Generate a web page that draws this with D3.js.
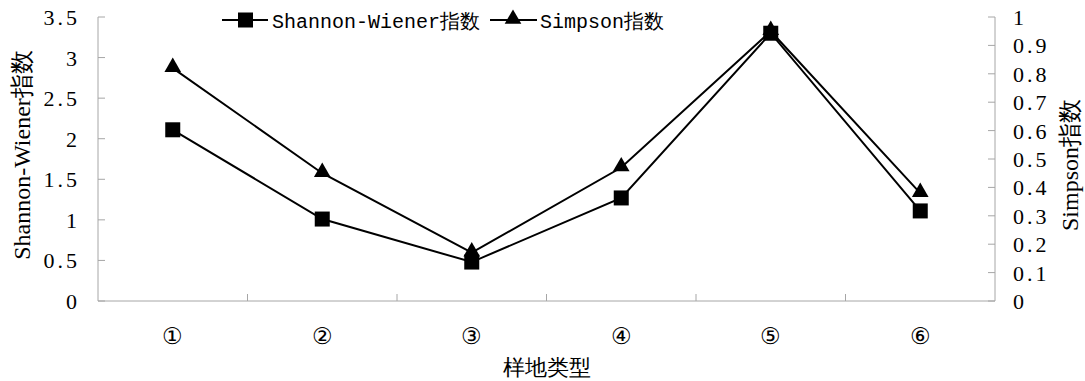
<!DOCTYPE html>
<html>
<head>
<meta charset="utf-8">
<script src="https://cdn.jsdelivr.net/npm/d3@7"></script>
</head>
<body style="margin:0">
<svg id="chart" width="1085" height="381"></svg>
<script>
// Plot types and the two diversity indices measured on each
const categories = ["①", "②", "③", "④", "⑤", "⑥"];
const shannonValues = [2.11, 1.01, 0.48, 1.27, 3.30, 1.11];
const simpsonValues = [0.82, 0.45, 0.17, 0.47, 0.95, 0.38];
const leftTicks = [0, 0.5, 1, 1.5, 2, 2.5, 3, 3.5];
const rightTicks = [0, 0.1, 0.2, 0.3, 0.4, 0.5, 0.6, 0.7, 0.8, 0.9, 1];

const svg = d3.select("#chart");
const plotL = 98, plotR = 995, plotT = 17, plotB = 301;
const axisColor = "#a6a6a6";

const x = d3.scaleBand().domain(categories).range([plotL, plotR]);
const yL = d3.scaleLinear().domain([0, 3.5]).range([plotB, plotT]);
const yR = d3.scaleLinear().domain([0, 1]).range([plotB, plotT]);

// Axis lines and inward ticks
svg.append("line").attr("x1", plotL).attr("x2", plotL).attr("y1", yL(3.5)).attr("y2", plotB).attr("stroke", axisColor);
svg.append("line").attr("x1", plotR).attr("x2", plotR).attr("y1", yR(1)).attr("y2", plotB).attr("stroke", axisColor);
svg.append("line").attr("x1", plotL).attr("x2", plotR).attr("y1", plotB).attr("y2", plotB).attr("stroke", axisColor);

svg.selectAll(".ltick").data(leftTicks).enter().append("line")
  .attr("x1", plotL).attr("x2", plotL + 7).attr("y1", d => yL(d)).attr("y2", d => yL(d))
  .attr("stroke", axisColor);
svg.selectAll(".rtick").data(rightTicks).enter().append("line")
  .attr("x1", plotR - 7).attr("x2", plotR).attr("y1", d => yR(d)).attr("y2", d => yR(d))
  .attr("stroke", axisColor);
svg.selectAll(".btick").data(categories.slice(1)).enter().append("line")
  .attr("x1", d => x(d)).attr("x2", d => x(d)).attr("y1", plotB - 7).attr("y2", plotB)
  .attr("stroke", axisColor);

// Tick labels
svg.selectAll(".llab").data(leftTicks).enter().append("text")
  .attr("x", plotL - 18).attr("y", d => yL(d) + 8).attr("text-anchor", "end")
  .attr("font-size", 22).attr("letter-spacing", 3)
  .style("font-family", "Liberation Serif")
  .text(d => String(d));
svg.selectAll(".rlab").data(rightTicks).enter().append("text")
  .attr("x", plotR + 18).attr("y", d => yR(d) + 8)
  .attr("font-size", 22).attr("letter-spacing", 3)
  .style("font-family", "Liberation Serif")
  .text(d => String(d));

const cx = d => x(d) + x.bandwidth() / 2;
svg.selectAll(".blab").data(categories).enter().append("text")
  .attr("x", d => cx(d)).attr("y", 344).attr("text-anchor", "middle")
  .attr("font-size", 23)
  .style("font-family", "Liberation Serif")
  .text(d => d);

const tri = d3.symbol().type(d3.symbolTriangle).size(120);

// Simpson series (triangles), drawn beneath
svg.append("path")
  .attr("d", d3.line().x((d, i) => cx(categories[i])).y(d => yR(d))(simpsonValues))
  .attr("fill", "none").attr("stroke", "#000").attr("stroke-width", 2);
svg.selectAll(".tri").data(simpsonValues).enter().append("path")
  .attr("transform", (d, i) => `translate(${cx(categories[i])},${yR(d) - 1})`)
  .attr("d", tri()).attr("fill", "#000");

// Shannon-Wiener series (squares)
svg.append("path")
  .attr("d", d3.line().x((d, i) => cx(categories[i])).y(d => yL(d))(shannonValues))
  .attr("fill", "none").attr("stroke", "#000").attr("stroke-width", 2);
svg.selectAll(".sq").data(shannonValues).enter().append("rect")
  .attr("x", (d, i) => cx(categories[i]) - 7.5).attr("y", d => yL(d) - 7.5)
  .attr("width", 15).attr("height", 15).attr("fill", "#000");

// Axis titles
svg.append("text").attr("transform", "translate(30,155) rotate(-90)")
  .attr("text-anchor", "middle").attr("font-size", 24)
  .style("font-family", "Liberation Serif")
  .text("Shannon-Wiener指数");
svg.append("text").attr("transform", "translate(1078,165) rotate(-90)")
  .attr("text-anchor", "middle").attr("font-size", 24)
  .style("font-family", "Liberation Serif")
  .text("Simpson指数");
svg.append("text").attr("x", 547).attr("y", 375)
  .attr("text-anchor", "middle").attr("font-size", 22)
  .style("font-family", "Liberation Serif")
  .text("样地类型");

// Legend
svg.append("line").attr("x1", 222).attr("x2", 268).attr("y1", 20).attr("y2", 20)
  .attr("stroke", "#000").attr("stroke-width", 2);
svg.append("rect").attr("x", 238).attr("y", 12.5).attr("width", 15).attr("height", 15).attr("fill", "#000");
svg.append("text").attr("x", 272).attr("y", 28).attr("font-size", 20)
  .style("font-family", "Liberation Mono").text("Shannon-Wiener指数");
svg.append("line").attr("x1", 490).attr("x2", 537).attr("y1", 20).attr("y2", 20)
  .attr("stroke", "#000").attr("stroke-width", 2);
svg.append("path").attr("transform", "translate(513,19)").attr("d", tri()).attr("fill", "#000");
svg.append("text").attr("x", 540).attr("y", 28).attr("font-size", 20)
  .style("font-family", "Liberation Mono").text("Simpson指数");
</script>
</body>
</html>
